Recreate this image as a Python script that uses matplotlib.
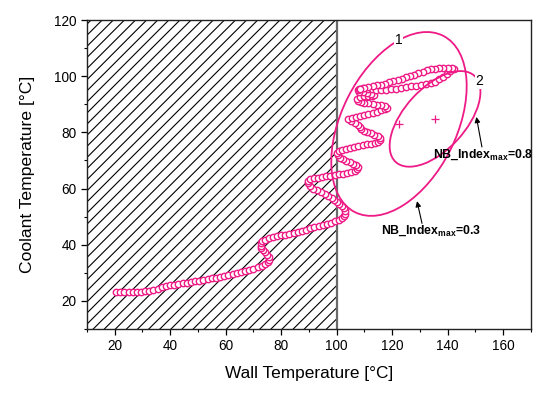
import matplotlib
matplotlib.use("Agg")
import matplotlib.pyplot as plt
from matplotlib.patches import Ellipse
from matplotlib.ticker import MultipleLocator

plt.rcParams['font.family'] = ['Liberation Sans', 'DejaVu Sans']
plt.rcParams['mathtext.fontset'] = 'custom'
plt.rcParams['mathtext.rm'] = 'Liberation Sans'
plt.rcParams['mathtext.bf'] = 'Liberation Sans:bold'
plt.rcParams['hatch.linewidth'] = 0.8

# ---- trajectory data (Wall temperature vs coolant temperature) ----
wall_a = [20.5, 22, 23.5, 25, 26.5, 28, 29.5, 31, 32.5, 34, 35.5, 37, 38.5, 40, 41.5, 43, 44.5, 46,
          47.5, 49, 50.5, 52, 53.5, 55, 56.5, 58, 59.5, 61, 62.5, 64, 65.5, 67, 68.5, 70, 71.5, 73]
cool_a = [23, 23, 23, 23.1, 23.1, 23.2, 23.3, 23.4, 23.6, 23.9, 24.4, 24.9, 25.3, 25.6, 25.8, 26, 26.2, 26.5,
          26.7, 26.9, 27.1, 27.4, 27.7, 28, 28.3, 28.6, 28.9, 29.2, 29.5, 29.8, 30.2, 30.6, 31, 31.4, 31.9, 32.4]
wall_b = [74.3, 75.2, 75.6, 75.5, 75, 74.3, 73.5, 72.9, 72.6, 72.7, 73.3, 74.3, 75.6, 77, 78.5, 80, 81.5, 83,
          84.5, 86, 87.5, 89, 90.5, 92, 93.5, 95, 96.5, 98, 99.5, 100.8, 101.8, 102.5]
cool_b = [33, 33.8, 34.7, 35.6, 36.5, 37.3, 38.1, 38.9, 39.7, 40.5, 41.2, 41.8, 42.3, 42.7, 43, 43.3, 43.6, 43.9,
          44.2, 44.6, 45, 45.4, 45.8, 46.2, 46.6, 47, 47.4, 47.8, 48.3, 48.8, 49.4, 50.1]
wall_c = [102.9, 102.9, 102.5, 101.8, 101, 100.1, 99.2, 98.2, 97, 95.7, 94.3, 92.9, 91.6, 90.5, 89.8, 89.6,
          90.3, 91.8, 93.3, 94.8, 96.3, 97.8, 99.3, 100.8, 102.3, 103.8, 105.2, 106.5, 107.4, 107.6,
          107, 106, 104.8, 103.5, 102.3, 101.3, 100.6, 100.3,
          100.8, 102, 103.4, 104.9, 106.4, 107.9, 109.4, 110.9, 112.3, 113.7, 114.9, 115.7,
          115.6, 114.8, 113.6, 112.3, 111, 109.8, 108.8, 108.3, 107.6, 106.5, 105.3, 104.3]
cool_c = [51, 52, 52.9, 53.7, 54.5, 55.3, 56, 56.7, 57.4, 58, 58.6, 59.3, 60, 60.8, 61.8, 62.8,
          63.4, 63.7, 63.9, 64.1, 64.3, 64.5, 64.7, 65, 65.3, 65.6, 65.9, 66.3, 66.9, 67.6,
          68.3, 68.9, 69.4, 69.9, 70.4, 71, 71.8, 72.6,
          73.3, 73.8, 74.2, 74.5, 74.8, 75.1, 75.4, 75.7, 76, 76.3, 76.7, 77.3,
          78, 78.6, 79.1, 79.6, 80.1, 80.6, 81.2, 81.9, 82.6, 83.3, 84, 84.7]
wall_d = [105.5, 107, 108.5, 110, 111.5, 113, 114.5, 116, 117.5, 118.3, 117.5, 116, 114.5, 113, 111.5, 110,
          108.7, 107.8, 107.5, 108.3, 109.8, 111.3, 112.8, 113.5, 112.5, 111, 109.5, 108.2, 107.6, 108.2,
          109.6, 111.2, 112.8, 114.3]
cool_d = [85.2, 85.5, 85.8, 86.2, 86.6, 87, 87.4, 87.8, 88.2, 88.8, 89.4, 89.7, 89.9, 90.1, 90.3, 90.5,
          90.8, 91.3, 92, 92.6, 92.8, 92.9, 93, 93.4, 93.8, 94, 94.2, 94.5, 95, 95.5,
          95.7, 95.6, 95.4, 95.2]
wall_e = [116, 117.8, 119.6, 121.4, 123.2, 125, 126.8, 128.6, 130.4, 132.2, 134, 135.6, 137, 138.4, 139.7,
          141, 142.2,
          141.5, 140, 138.5, 137, 135.5, 134, 132.5, 131, 129.5, 128, 126.5, 125, 123.5, 122, 120.5, 119,
          117.5, 116, 114.5, 113, 111.5, 110, 108.6]
cool_e = [95.1, 95.1, 95.3, 95.5, 95.8, 96.1, 96.4, 96.6, 96.9, 97.1, 97.5, 98.1, 98.9, 99.8, 100.8,
          101.8, 102.7,
          103.1, 103.1, 103, 102.8, 102.6, 102.4, 102.1, 101.6, 101.1, 100.6, 100.1, 99.6, 99.1, 98.6, 98.2, 97.8,
          97.4, 97, 96.7, 96.4, 96.1, 95.8, 95.6]

wall_temp = wall_a + wall_b + wall_c + wall_d + wall_e
coolant_temp = cool_a + cool_b + cool_c + cool_d + cool_e

# ---- ellipses (NB index regions) ----
ell_labels = ['1', '2']
ell_center_x = [122.5, 135.5]
ell_center_y = [83.0, 84.8]
ell_semi_major = [35.2, 20.9]
ell_semi_minor = [20.7, 11.0]
ell_angle = [63, 47]
ell_label_x = [122.4, 151.5]
ell_label_y = [112.9, 98.2]

ann_texts = [r'NB_Index$_{\mathbf{max}}$=0.8', r'NB_Index$_{\mathbf{max}}$=0.3']
ann_text_x = [134.9, 116.1]
ann_text_y = [71.1, 43.8]
ann_tail_x = [152.4, 130.8]
ann_tail_y = [74.8, 47.6]
ann_tip_x = [150.4, 129.0]
ann_tip_y = [85.5, 55.5]

boiling_limit = 100

pink = '#EE1A86'

fig = plt.figure(figsize=(5.5, 3.93), dpi=100)
ax = fig.add_axes([0.158, 0.163, 0.807, 0.786])

ax.set_xlim(10, 170)
ax.set_ylim(10, 120)

ax.axvspan(10, boiling_limit, facecolor='none', edgecolor='black', hatch='///', linewidth=0, zorder=1)
ax.axvline(boiling_limit, color='#6a6a6a', lw=1.6, zorder=2)

ax.plot(wall_temp, coolant_temp, linestyle='none', marker='o', markersize=4.6,
        markerfacecolor='white', markeredgecolor=pink, markeredgewidth=1.0, zorder=3)

for i in range(len(ell_labels)):
    e = Ellipse((ell_center_x[i], ell_center_y[i]), 2 * ell_semi_major[i], 2 * ell_semi_minor[i],
                angle=ell_angle[i], fill=False, edgecolor=pink, lw=1.3, zorder=4)
    ax.add_patch(e)
    ax.plot(ell_center_x[i], ell_center_y[i], marker='+', color=pink, markersize=6, mew=0.9, zorder=5)
    ax.text(ell_label_x[i], ell_label_y[i], ell_labels[i], fontsize=10, ha='center', va='center',
            bbox=dict(facecolor='white', edgecolor='none', pad=0.5), zorder=6)

for i in range(len(ann_texts)):
    ax.text(ann_text_x[i], ann_text_y[i], ann_texts[i], fontsize=8.8, fontweight='bold',
            ha='left', va='baseline', zorder=6)
    ax.annotate('', xy=(ann_tip_x[i], ann_tip_y[i]), xytext=(ann_tail_x[i], ann_tail_y[i]),
                arrowprops=dict(arrowstyle='-|>', color='black', lw=0.8, mutation_scale=8,
                                shrinkA=0, shrinkB=0), zorder=6)

ax.xaxis.set_minor_locator(MultipleLocator(10))
ax.yaxis.set_minor_locator(MultipleLocator(10))
ax.set_xticks([20, 40, 60, 80, 100, 120, 140, 160])
ax.set_yticks([20, 40, 60, 80, 100, 120])
ax.tick_params(which='major', direction='out', length=4, width=0.9, labelsize=9.8, colors='black')
ax.tick_params(which='minor', direction='out', length=2.5, width=0.8)
for s in ax.spines.values():
    s.set_linewidth(1.0)
    s.set_color('#222222')

ax.set_xlabel('Wall Temperature [°C]', fontsize=12.4, labelpad=9)
ax.set_ylabel('Coolant Temperature [°C]', fontsize=12.6, labelpad=14)

fig.savefig('out.png', dpi=100)
